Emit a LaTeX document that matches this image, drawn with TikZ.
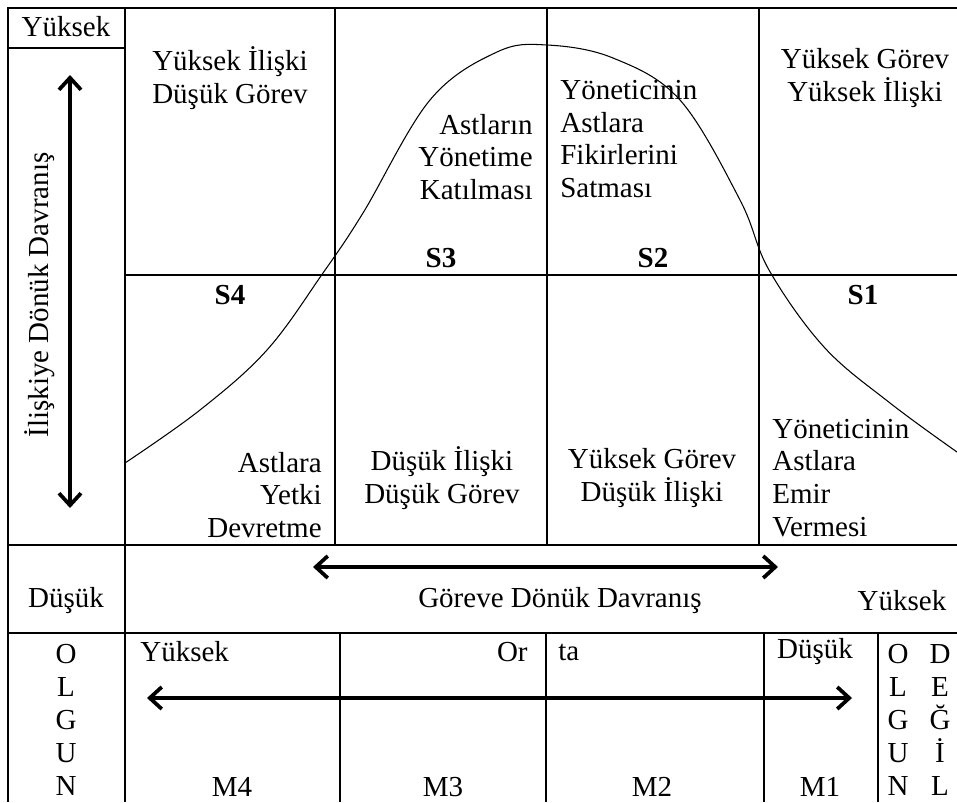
\documentclass[tikz,border=0pt]{standalone}
\usepackage{fontspec}
\setmainfont{Liberation Serif}
\usetikzlibrary{arrows.meta}

\begin{document}
\begin{tikzpicture}[x=0.02cm, y=-0.02cm,
    tabline/.style={line width=0.8pt},
    lbl/.style={inner sep=0pt, font=\fontsize{16.5}{18.7}\selectfont},
    blbl/.style={inner sep=0pt, font=\fontsize{16.5}{18.7}\selectfont\bfseries},
    dirarrow/.style={{Straight Barb[length=2.4mm,width=4.4mm]}-{Straight Barb[length=2.4mm,width=4.4mm]}, line width=0.75mm}]
    \useasboundingbox (0,0) rectangle (957,802);

    % table lines
    \draw[tabline] (957,8) -- (8,8) -- (8,802);
    \draw[tabline] (125,8) -- (125,802);
    \draw[tabline] (8,48) -- (125,48);
    \draw[tabline] (125,275) -- (957,275);
    \draw[tabline] (8,545) -- (957,545);
    \draw[tabline] (8,633) -- (957,633);
    \foreach \x in {335,547,759} \draw[tabline] (\x,8) -- (\x,545);
    \foreach \x in {340,546,764,878} \draw[tabline] (\x,633) -- (\x,802);

    % curve
    \draw[line width=0.6pt] plot[smooth, tension=0.6] coordinates {(125,463) (200,410) (267,350) (323,273) (363,213) (430,100) (497,52) (547,45) (613,58) (680,100) (740,200) (769,270) (824,347) (890,403) (957,452)};

    % left column
    \node[lbl] (hiTop) at (66,27) {Yüksek};
    \coordinate (relTop) at (70,75);
    \coordinate (relBot) at (70,508);
    \draw[dirarrow] (relBot) -- (relTop);
    \node[lbl, rotate=90] (relLabel) at (40,295) {İlişkiye Dönük Davranış};

    % upper quadrants
    \node[lbl, align=center] (q4top) at (230,78) {Yüksek İlişki\\Düşük Görev};
    \node[lbl, align=right, anchor=east] (s3txt) at (533,157) {Astların\\Yönetime\\Katılması};
    \node[lbl, align=left, anchor=west] (s2txt) at (560,139) {Yöneticinin\\Astlara\\Fikirlerini\\Satması};
    \node[lbl, align=center] (q1top) at (865,78) {Yüksek Görev\\Yüksek İlişki};
    \node[blbl] (s3) at (441,258) {S3};
    \node[blbl] (s2) at (653,258) {S2};

    % lower quadrants
    \node[blbl] (s4) at (230,295) {S4};
    \node[blbl] (s1) at (863,295) {S1};
    \node[lbl, align=right, anchor=east] (s4txt) at (322,495) {Astlara\\Yetki\\Devretme};
    \node[lbl, align=center] (q3bot) at (442,478) {Düşük İlişki\\Düşük Görev};
    \node[lbl, align=center] (q2bot) at (652,478) {Yüksek Görev\\Düşük İlişki};
    \node[lbl, align=left, anchor=west] (s1txt) at (772,478) {Yöneticinin\\Astlara\\Emir\\Vermesi};

    % task axis
    \coordinate (taskL) at (313,567);
    \coordinate (taskR) at (778,567);
    \draw[dirarrow] (taskL) -- (taskR);
    \node[lbl] (loLeft) at (66,601) {Düşük};
    \node[lbl] (taskLabel) at (560,601) {Göreve Dönük Davranış};
    \node[lbl] (hiRight) at (902,601) {Yüksek};

    % maturity row
    \node[lbl, align=center] (olgun) at (66,720) {O\\L\\G\\U\\N};
    \node[lbl, align=center] (olgunR) at (898,720) {O\\L\\G\\U\\N};
    \node[lbl, align=center] (degil) at (940,720) {D\\E\\Ğ\\İ\\L};
    \node[lbl, anchor=west] (mHigh) at (140,652) {Yüksek};
    \node[lbl, anchor=east] (mMidA) at (528,652) {Or};
    \node[lbl, anchor=west] (mMidB) at (558,652) {ta};
    \node[lbl] (mLow) at (815,652) {Düşük};
    \coordinate (matL) at (147,698);
    \coordinate (matR) at (852,698);
    \draw[dirarrow] (matL) -- (matR);
    \node[lbl] (m4) at (232,787) {M4};
    \node[lbl] (m3) at (443,787) {M3};
    \node[lbl] (m2) at (652,787) {M2};
    \node[lbl] (m1) at (820,787) {M1};
\end{tikzpicture}
\end{document}
